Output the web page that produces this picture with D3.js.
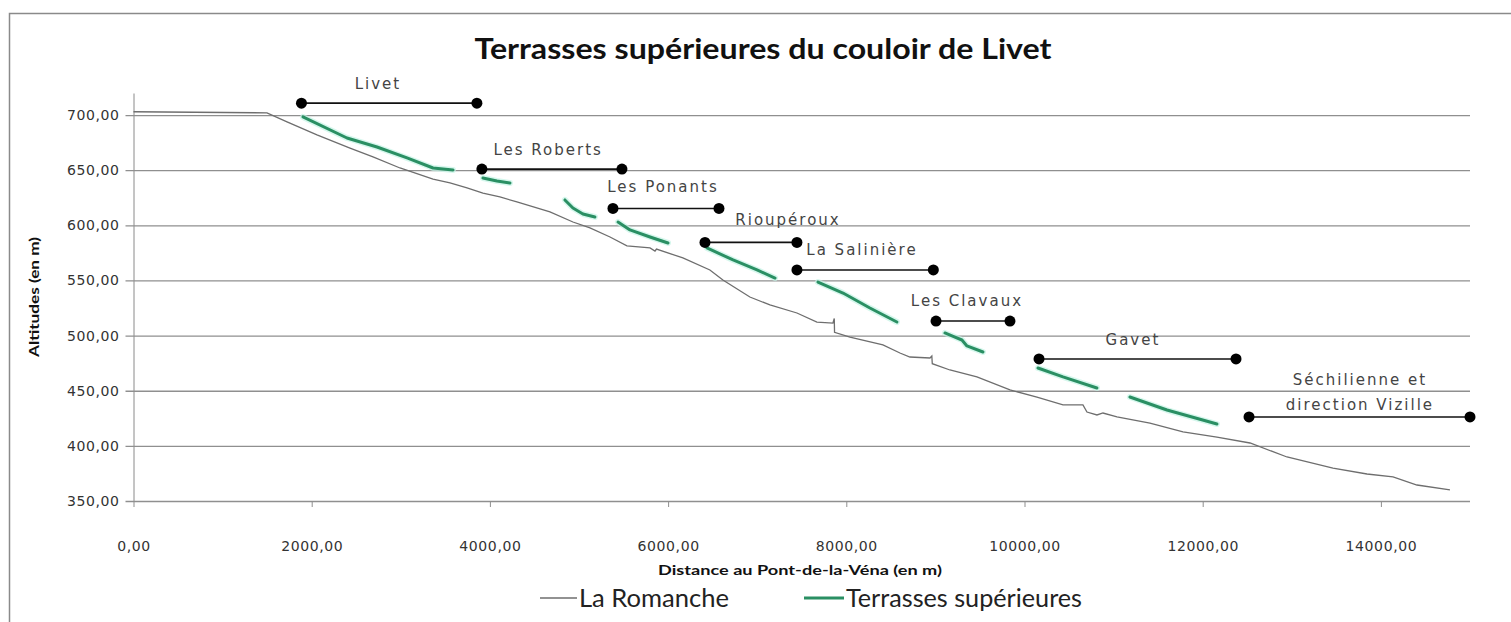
<!DOCTYPE html>
<html>
<head>
<meta charset="utf-8">
<script src="https://cdn.jsdelivr.net/npm/d3@7"></script>
<style>
  body { margin: 0; background: #fff; }
  svg { display: block; }
</style>
</head>
<body>
<div id="chart"></div>
<script>
// profil en long de la Romanche (distance en m, altitude en m)
const romancheDist = [0, 1498, 1723, 2059, 2430, 2688, 2991, 3362, 3552, 3743, 3922, 4112, 4303, 4674, 4932, 5123, 5348, 5538, 5797, 5853, 5870, 6166, 6469, 6615, 6918, 7143, 7446, 7670, 7850, 7865, 7868, 8041, 8411, 8602, 8714, 8939, 8960, 8965, 9163, 9466, 9837, 10140, 10432, 10656, 10701, 10813, 10881, 11038, 11408, 11779, 12160, 12531, 12946, 13462, 13844, 14136, 14405, 14775];
const romancheAlt = [703, 702, 693.8, 682, 670, 662, 652, 642, 638.5, 634, 629.3, 625.7, 621.2, 612.1, 603, 597.6, 589.4, 581.3, 579.5, 576.7, 578.5, 570.4, 559.5, 550.4, 535, 527.8, 520.5, 512.3, 511.4, 515.5, 503, 498.7, 491.5, 484.2, 480.6, 479.7, 481.5, 474.5, 468.8, 462.5, 450.7, 444.3, 437.1, 437.1, 430.7, 428, 429.8, 426.2, 420.7, 412.6, 408, 402.6, 389.9, 379.9, 374.5, 371.8, 364.5, 360];

// terrasses supérieures : un tableau de points [distance, altitude] par terrasse
const terrasses = [
  [[1902, 698.3], [2396, 679.2], [2733, 671], [3070, 661.1], [3362, 652], [3586, 650.2]],
  [[3922, 642.9], [4079, 640.2], [4225, 638.4]],
  [[4842, 623], [4932, 615.7], [5044, 610.3], [5179, 607.6]],
  [[5438, 603], [5572, 595.8], [5797, 589.4], [5999, 584]],
  [[6436, 579.5], [6729, 568.6], [6998, 559.5], [7200, 552.2]],
  [[7682, 548.6], [7963, 538.6], [8265, 525], [8568, 512.3]],
  [[9107, 502.4], [9219, 498.7], [9298, 496], [9354, 490.6], [9534, 485.1]],
  [[10151, 470.6], [10432, 462.5], [10813, 452.5]],
  [[11183, 444.3], [11599, 432.5], [12160, 419.8]]
];

// lieux-dits : étendue (début, fin) et altitude du repère
const lieux = ['Livet', 'Les Roberts', 'Les Ponants', 'Rioupéroux', 'La Salinière', 'Les Clavaux', 'Gavet', 'Séchilienne et|direction Vizille'];
const lieuxDebut = [1885, 3910, 5381, 6414, 7446, 9007, 10163, 12520];
const lieuxFin = [3854, 5482, 6571, 7446, 8977, 9837, 12374, 15000];
const lieuxAlt = [710.8, 651, 615.3, 584.5, 559.5, 513.2, 478.8, 426.2];
// position du nom (centre du texte)
const nomDist = [2744, 4654, 5943, 7346, 8176, 9354, 11217, 13765];
const nomAlt = [727.3, 668.3, 633.9, 604.8, 577.6, 530.5, 496, 459.7];

const xTicks = [0, 2000, 4000, 6000, 8000, 10000, 12000, 14000];
const yTicks = [350, 400, 450, 500, 550, 600, 650, 700];

const width = 1511;
const height = 622;
const margin = { top: 93, right: 41, bottom: 121, left: 133.5 };

const fr = d3.formatLocale({ decimal: ',', thousands: '', grouping: [3], currency: ['', ''] });
const fmt = fr.format('.2f');

const svg = d3.select('#chart')
  .append('svg')
  .attr('width', width)
  .attr('height', height);

// cadre du graphique
svg.append('rect')
  .attr('x', 9.5)
  .attr('y', 13.5)
  .attr('width', 1600)
  .attr('height', 700)
  .attr('fill', 'none')
  .attr('stroke', '#8a8a8a')
  .attr('stroke-width', 1.5);

const xScale = d3.scaleLinear()
  .domain([0, 15000])
  .range([margin.left, width - margin.right]);

const yScale = d3.scaleLinear()
  .domain([350, 720])
  .range([height - margin.bottom, margin.top]);

const plotW = xScale.range()[1] - xScale.range()[0];

// grille + axe vertical
const yAxis = d3.axisLeft(yScale)
  .tickValues(yTicks)
  .tickFormat(fmt)
  .tickSize(-plotW)
  .tickSizeOuter(0)
  .tickPadding(14);

svg.append('g')
  .attr('transform', `translate(${margin.left},0)`)
  .call(yAxis)
  .call(g => g.select('.domain').attr('stroke', '#8a8a8a').attr('stroke-width', 1))
  .call(g => g.selectAll('.tick line').attr('x1', -8).attr('stroke', '#8f8f8f').attr('stroke-width', 1.3))
  .call(g => g.selectAll('.tick text')
    .attr('fill', '#333')
    .style('font-family', '"DejaVu Sans"')
    .style('font-size', '14px')
    .style('letter-spacing', '0.6px'));

const xAxis = d3.axisBottom(xScale)
  .tickValues(xTicks)
  .tickFormat(fmt)
  .tickSize(6)
  .tickSizeOuter(0)
  .tickPadding(34);

svg.append('g')
  .attr('transform', `translate(0,${yScale(350)})`)
  .call(xAxis)
  .call(g => g.select('.domain').remove())
  .call(g => g.selectAll('.tick line').attr('stroke', '#8f8f8f'))
  .call(g => g.selectAll('.tick text')
    .attr('fill', '#333')
    .style('font-family', '"DejaVu Sans"')
    .style('font-size', '14px')
    .style('letter-spacing', '0.6px'));

// La Romanche
const romanche = romancheDist.map((d, i) => [d, romancheAlt[i]]);
const line = d3.line()
  .x(d => xScale(d[0]))
  .y(d => yScale(d[1]));

svg.append('path')
  .attr('d', line(romanche))
  .attr('fill', 'none')
  .attr('stroke', '#6e6e6e')
  .attr('stroke-width', 1.3);

// terrasses (halo clair puis trait)
terrasses.forEach(t => {
  svg.append('path')
    .attr('d', line(t))
    .attr('fill', 'none')
    .attr('stroke', '#c4f3e6')
    .attr('stroke-width', 6)
    .attr('stroke-linecap', 'round')
    .attr('stroke-linejoin', 'round')
    .style('opacity', 0.7);
  svg.append('path')
    .attr('d', line(t))
    .attr('fill', 'none')
    .attr('stroke', '#2a8f63')
    .attr('stroke-width', 3)
    .attr('stroke-linecap', 'round')
    .attr('stroke-linejoin', 'round');
});

// repères des lieux-dits
lieux.forEach((nom, i) => {
  const y = yScale(lieuxAlt[i]);
  svg.append('line')
    .attr('x1', xScale(lieuxDebut[i]))
    .attr('x2', xScale(lieuxFin[i]))
    .attr('y1', y)
    .attr('y2', y)
    .attr('stroke', '#111')
    .attr('stroke-width', 1.6);
  [lieuxDebut[i], lieuxFin[i]].forEach(d => {
    svg.append('circle')
      .attr('cx', xScale(d))
      .attr('cy', y)
      .attr('r', 5.5)
      .attr('fill', '#000');
  });
  const parts = nom.split('|');
  parts.forEach((p, j) => {
    svg.append('text')
      .attr('x', xScale(nomDist[i]))
      .attr('y', yScale(nomAlt[i]) + j * 25)
      .attr('text-anchor', 'middle')
      .attr('dominant-baseline', 'middle')
      .attr('fill', '#444')
      .style('font-family', '"DejaVu Sans"')
      .style('font-size', '15px')
      .style('letter-spacing', '2px')
      .text(p);
  });
});

// titres
svg.append('text')
  .attr('x', 763)
  .attr('y', 59)
  .attr('text-anchor', 'middle')
  .attr('fill', '#111')
  .attr('textLength', 577)
  .attr('lengthAdjust', 'spacingAndGlyphs')
  .style('font-family', 'Lato')
  .style('font-weight', 'bold')
  .style('font-size', '28px')
  .text('Terrasses supérieures du couloir de Livet');

svg.append('text')
  .attr('x', 800)
  .attr('y', 575)
  .attr('text-anchor', 'middle')
  .attr('fill', '#111')
  .attr('textLength', 284)
  .attr('lengthAdjust', 'spacingAndGlyphs')
  .style('font-family', 'Lato')
  .style('font-weight', 'bold')
  .style('font-size', '13px')
  .text('Distance au Pont-de-la-Véna (en m)');

svg.append('text')
  .attr('transform', 'translate(39,297) rotate(-90)')
  .attr('text-anchor', 'middle')
  .attr('fill', '#111')
  .attr('textLength', 120)
  .attr('lengthAdjust', 'spacingAndGlyphs')
  .style('font-family', 'Lato')
  .style('font-weight', 'bold')
  .style('font-size', '13px')
  .text('Altitudes (en m)');

// légende
const legend = [
  { nom: 'La Romanche', x: 540, len: 37, w: 150, stroke: '#6e6e6e', sw: 1.3 },
  { nom: 'Terrasses supérieures', x: 804, len: 40, w: 236, stroke: '#2a8f63', sw: 3 }
];
legend.forEach(l => {
  svg.append('line')
    .attr('x1', l.x).attr('x2', l.x + l.len)
    .attr('y1', 598).attr('y2', 598)
    .attr('stroke', l.stroke)
    .attr('stroke-width', l.sw);
  svg.append('text')
    .attr('x', l.x + l.len + 2)
    .attr('y', 607)
    .attr('fill', '#222')
    .attr('textLength', l.w)
    .attr('lengthAdjust', 'spacingAndGlyphs')
    .style('font-family', 'Lato')
    .style('font-size', '25px')
    .text(l.nom);
});
</script>
</body>
</html>
